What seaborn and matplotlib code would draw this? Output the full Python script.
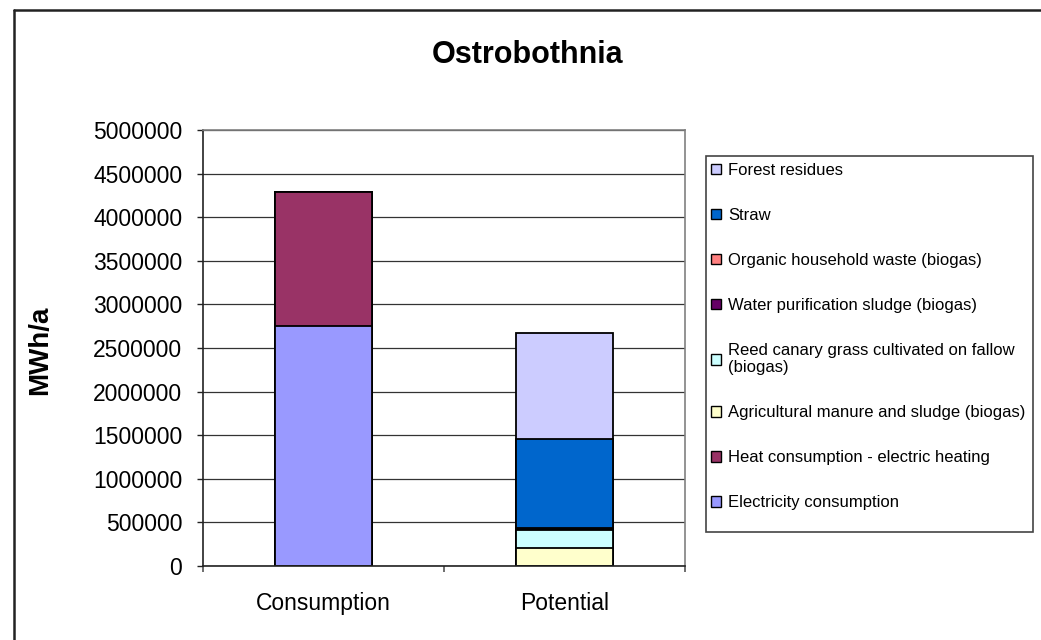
import matplotlib
matplotlib.use("Agg")
import matplotlib.pyplot as plt
import seaborn as sns
import pandas as pd
import numpy as np
from matplotlib.patches import Rectangle, Patch
from matplotlib.lines import Line2D

# ---- data ----
categories = ["Consumption", "Potential"]
electricity = [2750000, 0]
heat = [1535000, 0]
agricultural = [0, 205000]
reed = [0, 210000]
water_sludge = [0, 8000]
organic_waste = [0, 12000]
straw = [0, 1020000]
forest = [0, 1220000]

series_names = [
    "Electricity consumption",
    "Heat consumption - electric heating",
    "Agricultural manure and sludge (biogas)",
    "Reed canary grass cultivated on fallow\n(biogas)",
    "Water purification sludge (biogas)",
    "Organic household waste (biogas)",
    "Straw",
    "Forest residues",
]
series_values = [electricity, heat, agricultural, reed, water_sludge,
                 organic_waste, straw, forest]
series_colors = ["#9999FF", "#993366", "#FFFFCC", "#CCFFFF", "#660066",
                 "#FF8080", "#0066CC", "#CCCCFF"]
yticks = [0, 500000, 1000000, 1500000, 2000000, 2500000, 3000000,
          3500000, 4000000, 4500000, 5000000]

sns.set_theme(style="white")
plt.rcParams["font.family"] = ["Liberation Sans", "DejaVu Sans"]
plt.rcParams["text.color"] = "black"
plt.rcParams["axes.labelcolor"] = "black"

W, H = 1041, 640
fig = plt.figure(figsize=(W / 100, H / 100), dpi=100)
fig.patch.set_facecolor("white")

def fx(px):
    return px / W

def fy(py):
    return 1 - py / H

# plot area in pixels
L, R, T, B = 203, 685, 130, 566
ax = fig.add_axes([fx(L), fy(B), fx(R) - fx(L), (B - T) / H])

# cumulative stacks
cum = np.zeros(len(categories))
cums = []
for vals in series_values:
    cum = cum + np.array(vals, dtype=float)
    cums.append(cum.copy())

# draw from the top layer down (overdraw technique)
for name, c, col in reversed(list(zip(series_names, cums, series_colors))):
    d = pd.DataFrame({"category": categories, "value": c})
    sns.barplot(data=d, x="category", y="value", color=col, width=0.4,
                edgecolor="black", linewidth=1.3, saturation=1, ax=ax,
                errorbar=None)

ax.set_xlim(-0.5, 1.5)
ax.set_ylim(0, 5000000)
ax.set_yticks(yticks)
ax.set_yticklabels([str(v) for v in yticks])
ax.set_xlabel("")
ax.set_ylabel("")

# gridlines
ax.set_axisbelow(True)
ax.yaxis.grid(True, color="#333333", linewidth=0.9)
ax.xaxis.grid(False)

for side in ["top", "right"]:
    ax.spines[side].set_visible(True)
    ax.spines[side].set_color("#808080")
    ax.spines[side].set_linewidth(1.2)
for side in ["left", "bottom"]:
    ax.spines[side].set_color("#222222")
    ax.spines[side].set_linewidth(1.2)

ax.tick_params(axis="y", which="major", direction="out", length=4.5, width=1,
               color="#222222", left=True, labelsize=16.5, pad=10.5,
               labelcolor="black")
ax.set_xticks([0, 1])
ax.set_xticklabels(categories)
ax.set_xticks([-0.5, 0.5, 1.5], minor=True)
ax.tick_params(axis="x", which="major", length=0, labelsize=16.5, pad=19,
               labelcolor="black")
ax.tick_params(axis="x", which="minor", direction="out", length=4.5,
               width=1.2, color="#555555", bottom=True)

# title & y label
fig.text(fx(528), fy(55), "Ostrobothnia", ha="center", va="center",
         fontsize=22, fontweight="bold", color="black")
fig.text(fx(40), fy(350), "MWh/a", ha="center", va="center",
         rotation=90, fontsize=20, fontweight="bold", color="black")

# legend box
fig.add_artist(Rectangle((fx(706), fy(532)), fx(1033) - fx(706),
                         (532 - 156) / H, transform=fig.transFigure,
                         facecolor="white", edgecolor="#444444",
                         linewidth=1.2))
handles = [Patch(facecolor=c, edgecolor="black", linewidth=1.0)
           for c in series_colors]
leg = fig.legend(list(reversed(handles)), list(reversed(series_names)),
                 loc="upper left", bbox_to_anchor=(fx(711), fy(163)),
                 frameon=False, fontsize=12, labelspacing=1.8,
                 handlelength=0.6, handleheight=0.6, handletextpad=0.42,
                 borderpad=0, borderaxespad=0)
for t in leg.get_texts():
    t.set_color("black")

# outer chart border (left & top)
fig.add_artist(Line2D([fx(14), fx(14)], [fy(10), 0], transform=fig.transFigure,
                      color="#222222", linewidth=1.8))
fig.add_artist(Line2D([fx(14), 1], [fy(10), fy(10)], transform=fig.transFigure,
                      color="#222222", linewidth=1.8))

fig.savefig("out.png", dpi=100, facecolor="white")
